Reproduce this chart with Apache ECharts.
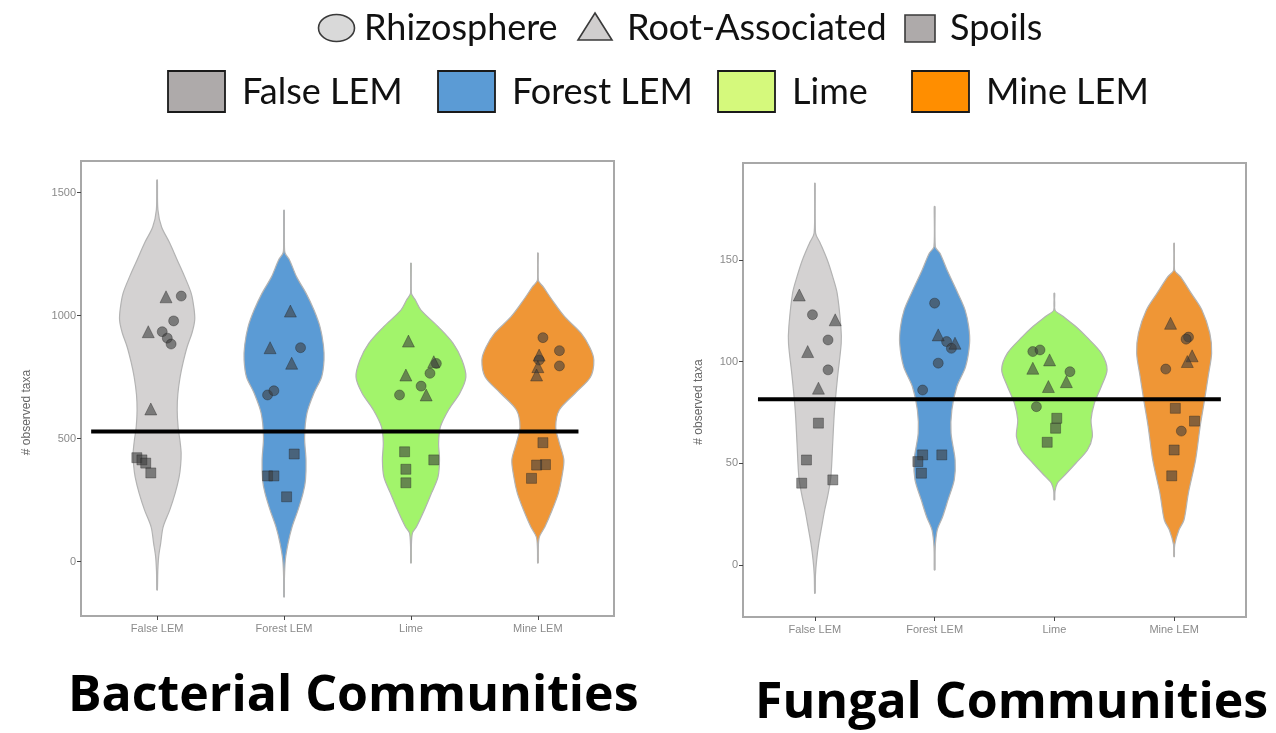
<!DOCTYPE html>
<html><head><meta charset="utf-8">
<script src="https://cdn.jsdelivr.net/npm/echarts@6/dist/echarts.min.js"></script>
<style>html,body{margin:0;padding:0;background:#fff}#c{width:1276px;height:733px}</style>
</head><body><div id="c"></div>
<script>
// ---------- data ----------
const categories = ['False LEM', 'Forest LEM', 'Lime', 'Mine LEM'];
const violinColors = ['#d4d2d2', '#5b9bd5', '#a2f46b', '#ef9636'];
const legendColors = ['#aeaaaa', '#5b9bd5', '#d5f97c', '#ff8e00'];
const shapeNames = ['Rhizosphere', 'Root-Associated', 'Spoils'];
const panelTitles = ['Bacterial Communities', 'Fungal Communities'];
const yName = '# observed taxa';
const bactTicks = [0, 500, 1000, 1500];
const fungTicks = [0, 50, 100, 150];
const catTicks = [1, 2, 3, 4];

// horizontal reference lines: value and x-extent (category units)
const bactMean = 528;
const bactMeanSpan = [0.48, 4.32];
const fungMean = 81.4;
const fungMeanSpan = [0.525, 4.39];

// violin profiles: [value, half-width in category units]
const bactFalse = [[1551,0.002],[1430,0.006],[1360,0.035],[1295,0.099],[1226,0.158],[1160,0.215],[1091,0.268],[1030,0.29],[982,0.296],[930,0.275],[872,0.236],[810,0.205],[750,0.181],[680,0.163],[615,0.158],[547,0.165],[490,0.18],[441,0.189],[390,0.185],[343,0.173],[278,0.142],[209,0.099],[140,0.047],[75,0.028],[20,0.012],[-40,0.005],[-116,0.002]];
const bactForest = [[1428,0.002],[1300,0.003],[1254,0.008],[1226,0.043],[1157,0.099],[1091,0.173],[1022,0.236],[953,0.284],[880,0.31],[819,0.315],[750,0.296],[685,0.236],[604,0.181],[506,0.162],[413,0.173],[331,0.169],[278,0.15],[209,0.11],[140,0.063],[75,0.032],[6,0.01],[-70,0.003],[-144,0.002]];
const bactLime = [[1213,0.002],[1091,0.003],[1063,0.035],[1022,0.079],[953,0.218],[888,0.331],[819,0.402],[750,0.433],[685,0.386],[616,0.296],[547,0.232],[482,0.218],[413,0.225],[343,0.213],[278,0.162],[209,0.106],[140,0.043],[116,0.012],[60,0.003],[-6,0.002]];
const bactMine = [[1254,0.002],[1144,0.003],[1116,0.043],[1063,0.113],[994,0.213],[929,0.339],[870,0.41],[819,0.441],[750,0.415],[685,0.296],[616,0.169],[547,0.141],[482,0.169],[413,0.205],[343,0.189],[278,0.162],[209,0.113],[140,0.055],[100,0.012],[50,0.003],[-6,0.002]];

const fungFalse = [[187.7,0.002],[163.2,0.006],[158.2,0.045],[149.9,0.104],[141.7,0.149],[133.6,0.186],[117.2,0.217],[109,0.22],[92.6,0.19],[76.2,0.164],[59.8,0.149],[43.4,0.134],[35.3,0.112],[27,0.082],[18.8,0.057],[10.7,0.033],[2.5,0.015],[-5,0.005],[-13.9,0.002]];
const fungForest = [[176.2,0.002],[156.5,0.005],[153.2,0.045],[145,0.104],[133.6,0.194],[125.4,0.254],[117,0.285],[109,0.292],[97.5,0.259],[87.7,0.186],[76.2,0.144],[64.8,0.137],[51.6,0.171],[41.8,0.164],[32,0.112],[23.7,0.067],[17.2,0.022],[8,0.004],[-2.5,0.002]];
const fungLime = [[133.6,0.002],[125.4,0.004],[122.1,0.075],[117.2,0.179],[112.2,0.267],[104.1,0.392],[95.9,0.44],[87.7,0.392],[79.5,0.334],[71.3,0.306],[63.1,0.317],[56.5,0.276],[50,0.179],[43.4,0.075],[40.2,0.025],[36,0.004],[32,0.002]];
const fungMine = [[158.2,0.002],[145,0.004],[141.7,0.053],[133.6,0.142],[125.4,0.231],[113.9,0.298],[104.1,0.313],[92.6,0.284],[81.1,0.254],[68,0.217],[51.6,0.179],[35.3,0.119],[22.1,0.082],[17.2,0.04],[10,0.005],[4.1,0.002]];

// points: [x position (category + jitter), value]
const bactRhizosphere = [[1.19,1079],[1.13,978],[1.04,934],[1.08,908],[1.11,884],[2.13,869],[1.87,677],[1.92,694],[3.20,805],[3.15,765],[3.08,713],[2.91,677],[4.04,910],[4.17,857],[4.17,795],[4.01,819]];
const bactRoot = [[1.07,1076],[0.93,934],[0.95,620],[2.05,1018],[1.89,869],[2.06,806],[2.98,896],[3.18,812],[2.96,758],[3.12,677],[4.01,839],[4.0,792],[3.99,758]];
const bactSpoils = [[0.84,422],[0.88,413],[0.91,400],[0.95,360],[2.08,437],[1.87,348],[1.92,348],[2.02,263],[2.95,446],[3.18,413],[2.96,375],[2.96,320],[4.04,483],[4.06,394],[3.99,392],[3.95,338]];

const fungRhizosphere = [[0.98,123],[1.11,110.6],[1.11,95.9],[2.0,128.7],[2.10,109.8],[2.14,106.5],[2.03,99.2],[1.90,86],[2.82,104.9],[2.88,105.7],[3.13,95],[2.85,77.8],[4.12,112],[4.10,111],[3.93,96.3],[4.06,65.8]];
const fungRoot = [[0.87,132.7],[1.17,120.5],[0.94,104.9],[1.03,86.9],[2.03,113.1],[2.17,109],[2.96,100.8],[2.82,96.7],[3.10,90.1],[2.95,87.7],[3.97,118.8],[4.15,102.8],[4.11,100]];
const fungSpoils = [[1.03,69.7],[0.93,51.6],[0.89,40.2],[1.15,41.8],[1.90,54.1],[2.06,54.1],[1.86,50.8],[1.89,45.1],[3.02,72.1],[3.01,67.2],[2.94,60.3],[4.01,77],[4.17,70.7],[4.0,56.5],[3.98,43.8]];

// ---------- chart ----------
const chart = echarts.init(document.getElementById('c'), null, {renderer: 'canvas'});
const FONT = 'Lato, "Open Sans", sans-serif';
const TFONT = '"Open Sans", Lato, sans-serif';
const AXFONT = '"Liberation Sans", Arial, sans-serif';

function violinSeries(gi, profiles) {
  return {
    type: 'custom', xAxisIndex: gi, yAxisIndex: gi, z: 2, silent: true,
    data: categories.map((c, i) => [i + 1, i]),
    encode: {x: 0},
    renderItem: function (params, api) {
      const cx = api.value(0), idx = api.value(1);
      const prof = profiles[idx];
      const right = prof.map(p => api.coord([cx + p[1], p[0]]));
      const left = prof.slice().reverse().map(p => api.coord([cx - p[1], p[0]]));
      const top = api.coord([cx, prof[0][0]]);
      const bottom = api.coord([cx, prof[prof.length - 1][0]]);
      return {
        type: 'group',
        children: [
          {type: 'line', shape: {x1: top[0], y1: top[1], x2: bottom[0], y2: bottom[1]},
            style: {stroke: '#b3b3b3', lineWidth: 1.6}},
          {type: 'polygon', shape: {points: right.concat(left), smooth: 0.3},
            style: {fill: violinColors[idx], stroke: '#b3b3b3', lineWidth: 1.2}}
        ]
      };
    }
  };
}
const ptStyle = {color: 'rgba(60,60,60,0.74)', borderColor: 'rgba(30,30,30,0.55)', borderWidth: 0.8};
function pts(gi, name, data, symbol, size) {
  return {type: 'scatter', name: name, xAxisIndex: gi, yAxisIndex: gi, data: data, symbol: symbol,
    symbolSize: size, itemStyle: ptStyle, z: 3, silent: true};
}
function meanLine(gi, span, m) {
  return {type: 'line', xAxisIndex: gi, yAxisIndex: gi, data: [[span[0], m], [span[1], m]],
    symbol: 'none', lineStyle: {color: '#000', width: 4}, z: 5, silent: true};
}
function xAx(gi) {
  return {gridIndex: gi, type: 'value', min: 0.4, max: 4.6, position: 'bottom',
    axisLine: {show: false, onZero: false}, splitLine: {show: false},
    axisTick: {show: true, customValues: catTicks, length: 4, lineStyle: {color: '#444', width: 1}},
    axisLabel: {customValues: catTicks, formatter: v => categories[Math.round(v) - 1], color: '#8a8a8a', fontSize: 11, fontFamily: AXFONT, margin: 7}};
}
function yAx(gi, min, max, ticks, gap, pad) {
  return {gridIndex: gi, type: 'value', min: min, max: max, position: 'left',
    axisLine: {show: false, onZero: false}, splitLine: {show: false},
    axisTick: {show: true, customValues: ticks, length: 4, lineStyle: {color: '#444', width: 1}},
    axisLabel: {customValues: ticks, formatter: v => String(v), color: '#8a8a8a', fontSize: 11, fontFamily: AXFONT, margin: 5},
    name: yName, nameLocation: 'middle', nameGap: gap,
    nameTextStyle: {color: '#666', fontSize: 12, fontFamily: AXFONT, padding: [0, pad, 0, 0]}};
}

const gridStyle = {show: true, borderColor: '#a8a8a8', borderWidth: 2, backgroundColor: '#fff'};

const graphics = [];
// shape legend (row 1)
graphics.push({type: 'ellipse', shape: {cx: 336.5, cy: 28, rx: 18, ry: 13.5}, style: {fill: '#d9d9d9', stroke: '#3a3a3a', lineWidth: 1.6}});
graphics.push({type: 'text', x: 364, y: 28, style: {text: shapeNames[0], font: '36px ' + FONT, fill: '#111', verticalAlign: 'middle'}});
graphics.push({type: 'polygon', shape: {points: [[595, 13], [612, 40], [578, 40]]}, style: {fill: '#d0cece', stroke: '#3a3a3a', lineWidth: 1.6}});
graphics.push({type: 'text', x: 627, y: 28, style: {text: shapeNames[1], font: '36px ' + FONT, fill: '#111', verticalAlign: 'middle'}});
graphics.push({type: 'rect', shape: {x: 905, y: 15, width: 30, height: 27}, style: {fill: '#aeaaaa', stroke: '#3a3a3a', lineWidth: 1.6}});
graphics.push({type: 'text', x: 950, y: 28, style: {text: shapeNames[2], font: '36px ' + FONT, fill: '#111', verticalAlign: 'middle'}});
// colour legend (row 2)
const boxX = [168, 438, 718, 912];
categories.forEach((c, i) => {
  graphics.push({type: 'rect', shape: {x: boxX[i], y: 71, width: 57, height: 41},
    style: {fill: legendColors[i], stroke: '#1a1a1a', lineWidth: 1.8}});
  graphics.push({type: 'text', x: boxX[i] + 74, y: 92,
    style: {text: c, font: '36px ' + FONT, fill: '#111', verticalAlign: 'middle'}});
});
// panel titles
graphics.push({type: 'text', x: 68, y: 697, style: {text: panelTitles[0], font: 'bold 50px ' + TFONT, fill: '#000', verticalAlign: 'middle'}});
graphics.push({type: 'text', x: 755, y: 704, style: {text: panelTitles[1], font: 'bold 50px ' + TFONT, fill: '#000', verticalAlign: 'middle'}});

chart.setOption({
  animation: false,
  backgroundColor: '#fff',
  grid: [
    Object.assign({left: 81, top: 161, width: 533, height: 455}, gridStyle),
    Object.assign({left: 743, top: 163, width: 503, height: 454}, gridStyle)
  ],
  xAxis: [xAx(0), xAx(1)],
  yAxis: [yAx(0, -221.5, 1628, bactTicks, 48, 48), yAx(1, -25.6, 197.6, fungTicks, 38, 24)],
  series: [
    violinSeries(0, [bactFalse, bactForest, bactLime, bactMine]),
    violinSeries(1, [fungFalse, fungForest, fungLime, fungMine]),
    pts(0, shapeNames[0], bactRhizosphere, 'circle', 10),
    pts(0, shapeNames[1], bactRoot, 'triangle', 12),
    pts(0, shapeNames[2], bactSpoils, 'rect', 10),
    pts(1, shapeNames[0], fungRhizosphere, 'circle', 10),
    pts(1, shapeNames[1], fungRoot, 'triangle', 12),
    pts(1, shapeNames[2], fungSpoils, 'rect', 10),
    meanLine(0, bactMeanSpan, bactMean),
    meanLine(1, fungMeanSpan, fungMean)
  ],
  graphic: graphics
});
</script>
</body></html>
